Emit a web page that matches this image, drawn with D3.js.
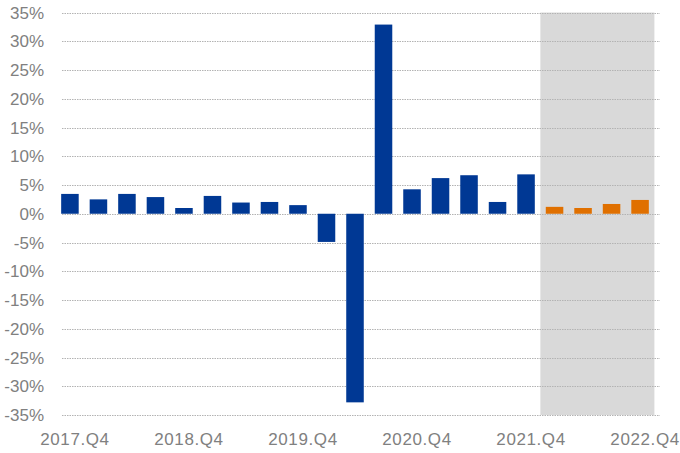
<!DOCTYPE html>
<html>
<head>
<meta charset="utf-8">
<script src="https://cdn.jsdelivr.net/npm/d3@7"></script>
<style>
  body { margin: 0; background: #fff; }
  text { font-family: "Liberation Sans", Arial, sans-serif; fill: #808080; }
</style>
</head>
<body>
<svg id="chart" width="680" height="453"></svg>
<script>
// quarters shown on the x axis
var quarters = [
  "2017.Q4", "2018.Q1", "2018.Q2", "2018.Q3", "2018.Q4",
  "2019.Q1", "2019.Q2", "2019.Q3", "2019.Q4",
  "2020.Q1", "2020.Q2", "2020.Q3", "2020.Q4",
  "2021.Q1", "2021.Q2", "2021.Q3", "2021.Q4",
  "2022.Q1", "2022.Q2", "2022.Q3", "2022.Q4"
];
// growth in %, last four are the forecast
var values = [
  3.45, 2.5, 3.45, 2.9, 1.0,
  3.1, 1.95, 2.05, 1.5,
  -4.9, -32.8, 32.9, 4.25,
  6.2, 6.7, 2.05, 6.85,
  1.2, 1.0, 1.7, 2.4
];
var forecast = ["2022.Q1", "2022.Q2", "2022.Q3", "2022.Q4"];
var tickLabels = ["2017.Q4", "2018.Q4", "2019.Q4", "2020.Q4", "2021.Q4", "2022.Q4"];
var yTicks = [-35, -30, -25, -20, -15, -10, -5, 0, 5, 10, 15, 20, 25, 30, 35];

var data = quarters.map((q, i) => ({ q: q, v: values[i] }));

var svg = d3.select("#chart");

var x = d3.scaleBand()
  .domain(quarters)
  .range([55.75, 654.25])
  .paddingInner(0.385)
  .paddingOuter(0.19);

var y = d3.scaleLinear()
  .domain([-35, 35])
  .range([415, 12.5]);

// shaded forecast area
svg.append("rect")
  .attr("x", x.step() * quarters.indexOf(forecast[0]) + 55.75)
  .attr("y", y(35))
  .attr("width", x.step() * forecast.length)
  .attr("height", y(-35) - y(35))
  .attr("fill", "#d9d9d9");

// gridlines
svg.append("g")
  .selectAll("line")
  .data(yTicks)
  .enter().append("line")
  .attr("x1", 62)
  .attr("x2", 660)
  .attr("y1", d => Math.round(y(d)) + 0.5)
  .attr("y2", d => Math.round(y(d)) + 0.5)
  .attr("stroke", "#b3b3b3")
  .attr("stroke-width", 1)
  .attr("stroke-dasharray", "1.5,1");

// bars
svg.append("g")
  .selectAll("rect")
  .data(data)
  .enter().append("rect")
  .attr("x", d => x(d.q))
  .attr("width", x.bandwidth())
  .attr("y", d => y(Math.max(0, d.v)))
  .attr("height", d => Math.abs(y(d.v) - y(0)))
  .attr("fill", d => forecast.includes(d.q) ? "#e07000" : "#003894");

// y labels
svg.append("g")
  .selectAll("text")
  .data(yTicks)
  .enter().append("text")
  .attr("x", 44)
  .attr("y", d => y(d))
  .attr("dy", "0.36em")
  .attr("text-anchor", "end")
  .style("font-size", "17px")
  .text(d => d + "%");

// x labels
svg.append("g")
  .selectAll("text")
  .data(tickLabels)
  .enter().append("text")
  .attr("x", d => x(d) + x.bandwidth() / 2 + 5)
  .attr("y", 445)
  .attr("text-anchor", "middle")
  .style("font-size", "17px")
  .style("letter-spacing", "0.6px")
  .text(d => d);
</script>
</body>
</html>
